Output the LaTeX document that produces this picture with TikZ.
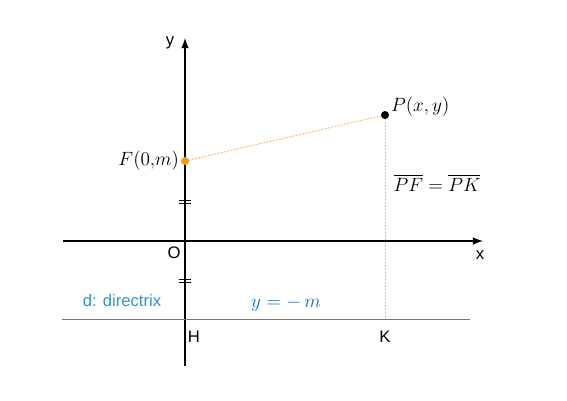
\documentclass[tikz,border=0pt]{standalone}
\usepackage{fontspec}
\setsansfont{Liberation Sans}
\usepackage{amsmath}
\usetikzlibrary{calc}
\tikzset{>=stealth}
\definecolor{dirblue}{RGB}{60,135,195}
\definecolor{lblblue}{RGB}{45,150,205}
\definecolor{eqblue}{RGB}{25,105,185}
\definecolor{focorange}{RGB}{245,150,20}
\definecolor{guideorange}{RGB}{250,185,120}
\tikzset{
  axis/.style={line width=1.6pt,-latex},
  guide/.style={dash pattern=on 1.5pt off 1pt,guideorange,line width=0.7pt},
  tickmark/.style={line width=0.5pt},
  lbl/.style={font=\sffamily\fontsize{12.5}{14}\selectfont},
  mlbl/.style={font=\fontsize{13.5}{15}\selectfont},
}

\begin{document}
\begin{tikzpicture}[x=30pt,y=30pt]
    \useasboundingbox (-4.625,-3.975) rectangle (9.55,6.025);
      % axes
      \coordinate (xl) at (-3.05,0);
      \coordinate (xr) at (7.45,0);
      \coordinate (yb) at (0,-3.125);
      \coordinate (yt) at (0,5.075);
      \draw[axis] (xl)--(xr);
      \draw[axis] (yb)--(yt);
      \node[lbl] (ylab) at (-0.375,4.95) {y};
      \node[lbl] (xlab) at (7.375,-0.35) {x};
      \node[lbl] (O) at (-0.275,-0.3) {O};

    % directrix
    \coordinate (dl) at (-3.075,-1.95);
    \coordinate (dr) at (7.125,-1.95);
    \draw[dirblue,line width=0.7pt] (dl)--(dr);
    \node[lbl,text=lblblue] (dname) at (-1.575,-1.5) {d: directrix};
    \node[mlbl,text=eqblue] (deq) at (2.525,-1.58) {$y=-\,m$};

    % points
    \coordinate (F) at (0,2);
    \coordinate (P) at (5,3.15);
    \coordinate (K) at (5,-1.95);
    \coordinate (H) at (0,-1.95);
    \draw[guide] (F)--(P);
    \draw[guide] (P)--(K);
    \fill[focorange] (F) circle (3pt);
    \fill[black] (P) circle (3pt);
    \node[mlbl,left=1pt] (Flab) at (F) {$F(0{,}m)$};
    \node[mlbl,right=1pt,yshift=6pt] (Plab) at (P) {$P(x,y)$};
    \node[lbl] (Hlab) at (0.225,-2.4) {H};
    \node[lbl] (Klab) at (5,-2.4) {K};
    \node[mlbl] (eq) at (6.3,1.45) {$\overline{PF}=\overline{PK}$};

    % equal-length marks
    \foreach \yy in {0.975,-1.0}{
      \draw[tickmark] (-0.16,\yy+0.04)--(0.16,\yy+0.04);
      \draw[tickmark] (-0.16,\yy-0.04)--(0.16,\yy-0.04);
    }
     \end{tikzpicture}
\end{document}
